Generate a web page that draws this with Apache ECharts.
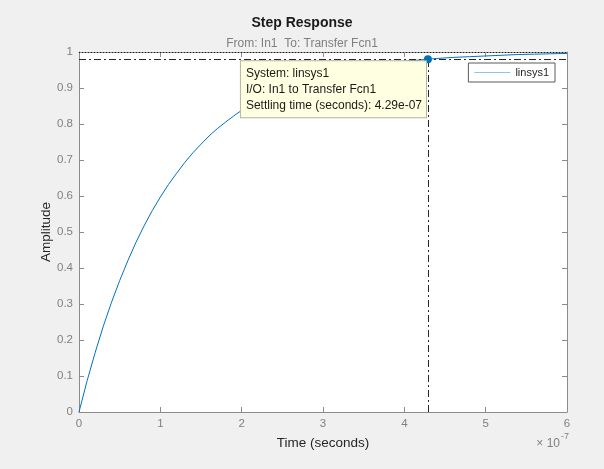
<!DOCTYPE html>
<html>
<head>
<meta charset="utf-8">
<script src="https://cdn.jsdelivr.net/npm/echarts@6/dist/echarts.min.js"></script>
<style>
html,body{margin:0;padding:0;background:#f0f0f0;}
#c{width:604px;height:469px;}
</style>
</head>
<body>
<div id="c"></div>
<script>
// Data (time in units of 1e-7 s)
const timeVals = [0, 0.1, 0.2, 0.3, 0.4, 0.5, 0.6, 0.7, 0.8, 0.9, 1.0, 1.1, 1.2, 1.3, 1.4, 1.5, 1.6, 1.7, 1.8, 1.9, 2.0, 2.2, 2.4, 2.6, 2.8, 3.0, 3.2, 3.4, 3.6, 3.8, 4.0, 4.2, 4.29, 4.4, 4.6, 4.8, 5.0, 5.2, 5.4, 5.6, 5.8, 6.0];
const amplitudeVals = [0, 0.087, 0.166, 0.239, 0.305, 0.365, 0.420, 0.471, 0.517, 0.559, 0.597, 0.632, 0.663, 0.693, 0.720, 0.744, 0.767, 0.787, 0.805, 0.822, 0.838, 0.865, 0.887, 0.906, 0.922, 0.935, 0.946, 0.955, 0.963, 0.968, 0.974, 0.978, 0.980, 0.982, 0.985, 0.987, 0.989, 0.991, 0.993, 0.994, 0.995, 0.996];
const settlingTime = 4.29;
const settlingAmp = 0.98;
const steadyState = 1;
const seriesName = 'linsys1';
const xTicks = [0, 1, 2, 3, 4, 5, 6];
const yTicks = [0, 0.1, 0.2, 0.3, 0.4, 0.5, 0.6, 0.7, 0.8, 0.9, 1];

const FONT = 'Liberation Sans, Arial, sans-serif';
const AX = '#8c8c8c';
const LBL = '#808080';
const chart = echarts.init(document.getElementById('c'));
const dashDot = [7, 3, 2, 3];

const data = timeVals.map((t, i) => [t, amplitudeVals[i]]);

chart.setOption({
  backgroundColor: '#f0f0f0',
  animation: false,
  textStyle: { fontFamily: FONT },
  title: {
    text: 'Step Response',
    subtext: 'From: In1  To: Transfer Fcn1',
    left: 'center',
    top: 11,
    itemGap: 8,
    textStyle: { fontSize: 14, fontWeight: 'bold', color: '#1a1a1a', fontFamily: FONT },
    subtextStyle: { fontSize: 12, color: '#7f7f7f', fontFamily: FONT }
  },
  legend: {
    data: [{ name: seriesName, icon: 'rect' }],
    top: 63,
    right: 49,
    backgroundColor: '#ffffff',
    borderColor: '#5a5a5a',
    borderWidth: 1,
    borderRadius: 0,
    padding: [4, 6, 4, 6],
    itemWidth: 36,
    itemHeight: 1,
    itemGap: 4,
    textStyle: { fontSize: 11, color: '#262626', fontFamily: FONT },
    itemStyle: { color: '#8fc3ea' }
  },
  grid: {
    left: 79, right: 37, top: 52, bottom: 57,
    show: true, backgroundColor: '#ffffff', borderWidth: 0
  },
  xAxis: [{
    type: 'value', min: 0, max: 6, interval: 1,
    name: 'Time (seconds)', nameLocation: 'middle', nameGap: 24,
    nameTextStyle: { fontSize: 13.5, color: '#262626', fontFamily: FONT },
    axisLine: { show: true, onZero: false, lineStyle: { color: AX, width: 1 } },
    axisTick: { show: true, inside: true, length: 5, lineStyle: { color: AX } },
    axisLabel: { color: LBL, fontSize: 11.5, margin: 6, formatter: v => xTicks.includes(v) ? String(v) : '' },
    splitLine: { show: false }
  }, {
    type: 'value', min: 0, max: 6, interval: 1, position: 'top',
    axisLine: { show: true, onZero: false, lineStyle: { color: AX, width: 1 } },
    axisTick: { show: true, inside: true, length: 5, lineStyle: { color: AX } },
    axisLabel: { show: false },
    splitLine: { show: false }
  }],
  yAxis: [{
    type: 'value', min: 0, max: 1, interval: 0.1,
    axisLine: { show: true, onZero: false, lineStyle: { color: AX, width: 1 } },
    axisTick: { show: true, inside: true, length: 5, lineStyle: { color: AX } },
    axisLabel: { color: LBL, fontSize: 11.5, margin: 6, formatter: v => {
      const r = Math.round(v * 10) / 10;
      return yTicks.includes(r) ? String(r) : '';
    } },
    splitLine: { show: false }
  }, {
    type: 'value', min: 0, max: 1, interval: 0.1, position: 'right',
    axisLine: { show: true, onZero: false, lineStyle: { color: AX, width: 1 } },
    axisTick: { show: true, inside: true, length: 5, lineStyle: { color: AX } },
    axisLabel: { show: false },
    splitLine: { show: false }
  }],
  graphic: [{
    type: 'text',
    x: 46,
    y: 232,
    rotation: Math.PI / 2,
    style: {
      text: 'Amplitude',
      fontSize: 13.5,
      fill: '#262626',
      fontFamily: FONT,
      align: 'center',
      verticalAlign: 'middle'
    }
  }, {
    type: 'text',
    right: 35,
    top: 432,
    style: {
      text: '{a|× 10}{b|-7}',
      rich: {
        a: { fontSize: 12, fill: LBL, fontFamily: FONT, verticalAlign: 'bottom' },
        b: { fontSize: 9, fill: LBL, fontFamily: FONT, verticalAlign: 'top', padding: [0, 0, 9, 1] }
      }
    }
  }],
  series: [{
    name: seriesName,
    type: 'line',
    data: data,
    showSymbol: false,
    smooth: false,
    z: 3,
    lineStyle: { color: '#0072bd', width: 1 },
    itemStyle: { color: '#0072bd' },
    markLine: {
      silent: true,
      symbol: 'none',
      animation: false,
      label: { show: false },
      data: [
        { yAxis: steadyState, lineStyle: { color: '#1a1a1a', type: [1, 2], width: 1 } },
        { yAxis: settlingAmp, lineStyle: { color: '#262626', type: dashDot, width: 1 } },
        [
          { coord: [settlingTime, 0], lineStyle: { color: '#262626', type: dashDot, width: 1 } },
          { coord: [settlingTime, settlingAmp] }
        ]
      ]
    },
    markPoint: {
      silent: true,
      animation: false,
      symbol: 'circle',
      symbolSize: 8,
      itemStyle: { color: '#0072bd' },
      data: [{
        coord: [settlingTime, settlingAmp],
        label: {
          show: true,
          position: [-183, 6],
          align: 'left',
          verticalAlign: 'top',
          formatter: 'System: linsys1\nI/O: In1 to Transfer Fcn1\nSettling time (seconds): 4.29e-07',
          backgroundColor: '#ffffe1',
          borderColor: '#b4b4a0',
          borderWidth: 1,
          padding: [4, 4, 4, 5],
          lineHeight: 16,
          fontSize: 12,
          color: '#1a1a1a',
          fontFamily: FONT
        }
      }]
    }
  }]
});
</script>
</body>
</html>
